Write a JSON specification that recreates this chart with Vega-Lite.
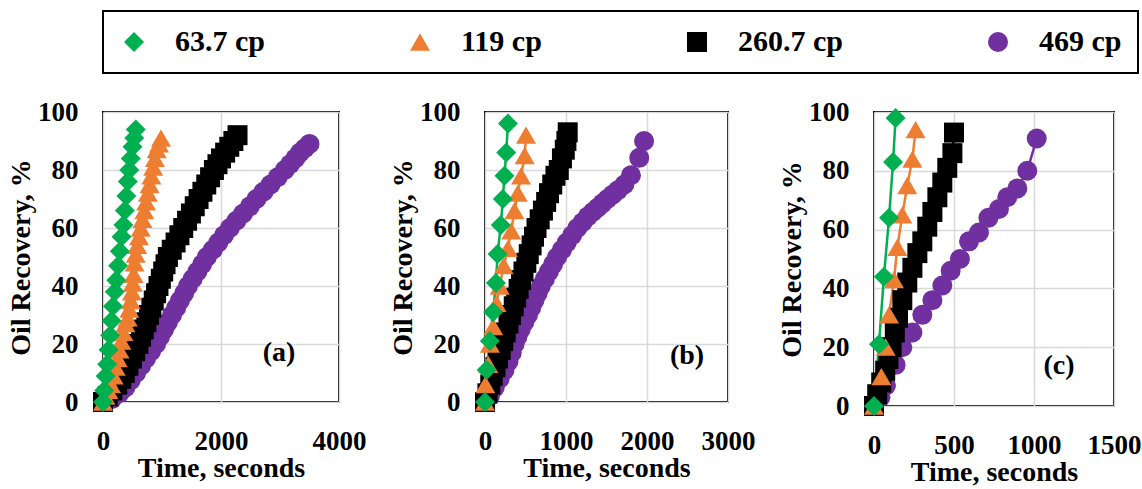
{
  "$schema": "https://vega.github.io/schema/vega-lite/v6.json",
  "padding": {"left": 6, "top": 10, "right": 0, "bottom": 0},
  "bounds": "flush",
  "spacing": 146,
  "datasets": {
    "pts": [
      {"p":"a","s":"469 cp","t":0,"r":0},{"p":"a","s":"469 cp","t":150,"r":1},{"p":"a","s":"469 cp","t":280,"r":3},{"p":"a","s":"469 cp","t":380,"r":5},{"p":"a","s":"469 cp","t":470,"r":7.5},{"p":"a","s":"469 cp","t":560,"r":10},{"p":"a","s":"469 cp","t":645,"r":12.5},{"p":"a","s":"469 cp","t":730,"r":15},{"p":"a","s":"469 cp","t":815,"r":17.5},{"p":"a","s":"469 cp","t":900,"r":20},{"p":"a","s":"469 cp","t":965,"r":22.5},{"p":"a","s":"469 cp","t":1035,"r":25},{"p":"a","s":"469 cp","t":1100,"r":27.5},{"p":"a","s":"469 cp","t":1170,"r":30},{"p":"a","s":"469 cp","t":1240,"r":32.5},{"p":"a","s":"469 cp","t":1305,"r":35},{"p":"a","s":"469 cp","t":1375,"r":37.5},{"p":"a","s":"469 cp","t":1440,"r":40},{"p":"a","s":"469 cp","t":1520,"r":42.5},{"p":"a","s":"469 cp","t":1600,"r":45},{"p":"a","s":"469 cp","t":1680,"r":47.5},{"p":"a","s":"469 cp","t":1760,"r":50},{"p":"a","s":"469 cp","t":1860,"r":52.5},{"p":"a","s":"469 cp","t":1955,"r":55},{"p":"a","s":"469 cp","t":2050,"r":57.5},{"p":"a","s":"469 cp","t":2150,"r":60},{"p":"a","s":"469 cp","t":2260,"r":62.5},{"p":"a","s":"469 cp","t":2375,"r":65},{"p":"a","s":"469 cp","t":2490,"r":67.5},{"p":"a","s":"469 cp","t":2600,"r":70},{"p":"a","s":"469 cp","t":2720,"r":72.5},{"p":"a","s":"469 cp","t":2840,"r":75},{"p":"a","s":"469 cp","t":2960,"r":77.5},{"p":"a","s":"469 cp","t":3080,"r":80},{"p":"a","s":"469 cp","t":3170,"r":82},{"p":"a","s":"469 cp","t":3260,"r":84},{"p":"a","s":"469 cp","t":3340,"r":86},{"p":"a","s":"469 cp","t":3420,"r":87.5},{"p":"a","s":"469 cp","t":3500,"r":89},
      {"p":"a","s":"260.7 cp","t":0,"r":0},{"p":"a","s":"260.7 cp","t":80,"r":2},{"p":"a","s":"260.7 cp","t":160,"r":4},{"p":"a","s":"260.7 cp","t":240,"r":6},{"p":"a","s":"260.7 cp","t":310,"r":8},{"p":"a","s":"260.7 cp","t":370,"r":10},{"p":"a","s":"260.7 cp","t":430,"r":12.5},{"p":"a","s":"260.7 cp","t":490,"r":15},{"p":"a","s":"260.7 cp","t":545,"r":17.5},{"p":"a","s":"260.7 cp","t":600,"r":20},{"p":"a","s":"260.7 cp","t":645,"r":22.5},{"p":"a","s":"260.7 cp","t":690,"r":25},{"p":"a","s":"260.7 cp","t":735,"r":27.5},{"p":"a","s":"260.7 cp","t":780,"r":30},{"p":"a","s":"260.7 cp","t":820,"r":32.5},{"p":"a","s":"260.7 cp","t":860,"r":35},{"p":"a","s":"260.7 cp","t":900,"r":37.5},{"p":"a","s":"260.7 cp","t":940,"r":40},{"p":"a","s":"260.7 cp","t":980,"r":42.5},{"p":"a","s":"260.7 cp","t":1020,"r":45},{"p":"a","s":"260.7 cp","t":1060,"r":47.5},{"p":"a","s":"260.7 cp","t":1100,"r":50},{"p":"a","s":"260.7 cp","t":1165,"r":52.5},{"p":"a","s":"260.7 cp","t":1230,"r":55},{"p":"a","s":"260.7 cp","t":1295,"r":57.5},{"p":"a","s":"260.7 cp","t":1360,"r":60},{"p":"a","s":"260.7 cp","t":1425,"r":62.5},{"p":"a","s":"260.7 cp","t":1490,"r":65},{"p":"a","s":"260.7 cp","t":1555,"r":67.5},{"p":"a","s":"260.7 cp","t":1620,"r":70},{"p":"a","s":"260.7 cp","t":1685,"r":72.5},{"p":"a","s":"260.7 cp","t":1750,"r":75},{"p":"a","s":"260.7 cp","t":1815,"r":77.5},{"p":"a","s":"260.7 cp","t":1880,"r":80},{"p":"a","s":"260.7 cp","t":1940,"r":82},{"p":"a","s":"260.7 cp","t":2000,"r":84},{"p":"a","s":"260.7 cp","t":2070,"r":86},{"p":"a","s":"260.7 cp","t":2140,"r":88},{"p":"a","s":"260.7 cp","t":2210,"r":90},{"p":"a","s":"260.7 cp","t":2280,"r":92},
      {"p":"a","s":"119 cp","t":0,"r":0},{"p":"a","s":"119 cp","t":40,"r":2},{"p":"a","s":"119 cp","t":90,"r":4},{"p":"a","s":"119 cp","t":136,"r":6},{"p":"a","s":"119 cp","t":180,"r":9},{"p":"a","s":"119 cp","t":215,"r":12},{"p":"a","s":"119 cp","t":250,"r":15},{"p":"a","s":"119 cp","t":280,"r":18},{"p":"a","s":"119 cp","t":310,"r":21},{"p":"a","s":"119 cp","t":345,"r":24},{"p":"a","s":"119 cp","t":380,"r":27},{"p":"a","s":"119 cp","t":418,"r":29},{"p":"a","s":"119 cp","t":445,"r":32},{"p":"a","s":"119 cp","t":470,"r":35},{"p":"a","s":"119 cp","t":490,"r":38},{"p":"a","s":"119 cp","t":505,"r":41},{"p":"a","s":"119 cp","t":520,"r":44},{"p":"a","s":"119 cp","t":535,"r":48},{"p":"a","s":"119 cp","t":555,"r":51},{"p":"a","s":"119 cp","t":580,"r":54},{"p":"a","s":"119 cp","t":610,"r":57},{"p":"a","s":"119 cp","t":640,"r":60},{"p":"a","s":"119 cp","t":670,"r":63},{"p":"a","s":"119 cp","t":700,"r":66},{"p":"a","s":"119 cp","t":730,"r":69},{"p":"a","s":"119 cp","t":760,"r":72},{"p":"a","s":"119 cp","t":790,"r":75},{"p":"a","s":"119 cp","t":820,"r":78},{"p":"a","s":"119 cp","t":850,"r":81},{"p":"a","s":"119 cp","t":880,"r":84},{"p":"a","s":"119 cp","t":910,"r":87},{"p":"a","s":"119 cp","t":950,"r":89},{"p":"a","s":"119 cp","t":983,"r":91},
      {"p":"a","s":"63.7 cp","t":0,"r":0},{"p":"a","s":"63.7 cp","t":20,"r":4},{"p":"a","s":"63.7 cp","t":45,"r":9},{"p":"a","s":"63.7 cp","t":70,"r":13},{"p":"a","s":"63.7 cp","t":95,"r":18},{"p":"a","s":"63.7 cp","t":120,"r":23},{"p":"a","s":"63.7 cp","t":145,"r":28},{"p":"a","s":"63.7 cp","t":170,"r":33},{"p":"a","s":"63.7 cp","t":200,"r":38},{"p":"a","s":"63.7 cp","t":225,"r":42},{"p":"a","s":"63.7 cp","t":255,"r":47},{"p":"a","s":"63.7 cp","t":285,"r":52},{"p":"a","s":"63.7 cp","t":315,"r":57},{"p":"a","s":"63.7 cp","t":345,"r":61},{"p":"a","s":"63.7 cp","t":370,"r":66},{"p":"a","s":"63.7 cp","t":395,"r":71},{"p":"a","s":"63.7 cp","t":420,"r":76},{"p":"a","s":"63.7 cp","t":445,"r":80},{"p":"a","s":"63.7 cp","t":470,"r":84},{"p":"a","s":"63.7 cp","t":500,"r":88},{"p":"a","s":"63.7 cp","t":530,"r":91},{"p":"a","s":"63.7 cp","t":555,"r":94},

      {"p":"b","s":"469 cp","t":0,"r":0},{"p":"b","s":"469 cp","t":60,"r":2},{"p":"b","s":"469 cp","t":120,"r":5},{"p":"b","s":"469 cp","t":180,"r":8},{"p":"b","s":"469 cp","t":240,"r":11},{"p":"b","s":"469 cp","t":290,"r":14},{"p":"b","s":"469 cp","t":330,"r":17},{"p":"b","s":"469 cp","t":365,"r":20},{"p":"b","s":"469 cp","t":400,"r":22.5},{"p":"b","s":"469 cp","t":440,"r":25},{"p":"b","s":"469 cp","t":485,"r":27.5},{"p":"b","s":"469 cp","t":530,"r":30},{"p":"b","s":"469 cp","t":570,"r":32.5},{"p":"b","s":"469 cp","t":610,"r":35},{"p":"b","s":"469 cp","t":650,"r":37.5},{"p":"b","s":"469 cp","t":690,"r":40},{"p":"b","s":"469 cp","t":740,"r":42.5},{"p":"b","s":"469 cp","t":790,"r":45},{"p":"b","s":"469 cp","t":840,"r":47.5},{"p":"b","s":"469 cp","t":890,"r":50},{"p":"b","s":"469 cp","t":950,"r":52.5},{"p":"b","s":"469 cp","t":1010,"r":55},{"p":"b","s":"469 cp","t":1075,"r":57.5},{"p":"b","s":"469 cp","t":1140,"r":60},{"p":"b","s":"469 cp","t":1205,"r":62},{"p":"b","s":"469 cp","t":1270,"r":64},{"p":"b","s":"469 cp","t":1330,"r":65.5},{"p":"b","s":"469 cp","t":1390,"r":67},{"p":"b","s":"469 cp","t":1450,"r":68.5},{"p":"b","s":"469 cp","t":1510,"r":70},{"p":"b","s":"469 cp","t":1575,"r":71.5},{"p":"b","s":"469 cp","t":1640,"r":73},{"p":"b","s":"469 cp","t":1721,"r":75},{"p":"b","s":"469 cp","t":1802,"r":78.2},{"p":"b","s":"469 cp","t":1904,"r":84.2},{"p":"b","s":"469 cp","t":1964,"r":90},
      {"p":"b","s":"260.7 cp","t":0,"r":0},{"p":"b","s":"260.7 cp","t":30,"r":3},{"p":"b","s":"260.7 cp","t":65,"r":6},{"p":"b","s":"260.7 cp","t":95,"r":9},{"p":"b","s":"260.7 cp","t":130,"r":12},{"p":"b","s":"260.7 cp","t":160,"r":15},{"p":"b","s":"260.7 cp","t":195,"r":18},{"p":"b","s":"260.7 cp","t":225,"r":21},{"p":"b","s":"260.7 cp","t":255,"r":24},{"p":"b","s":"260.7 cp","t":290,"r":27},{"p":"b","s":"260.7 cp","t":320,"r":30},{"p":"b","s":"260.7 cp","t":355,"r":33},{"p":"b","s":"260.7 cp","t":385,"r":36},{"p":"b","s":"260.7 cp","t":415,"r":39},{"p":"b","s":"260.7 cp","t":445,"r":42},{"p":"b","s":"260.7 cp","t":475,"r":45},{"p":"b","s":"260.7 cp","t":510,"r":48},{"p":"b","s":"260.7 cp","t":540,"r":51},{"p":"b","s":"260.7 cp","t":575,"r":54},{"p":"b","s":"260.7 cp","t":605,"r":57},{"p":"b","s":"260.7 cp","t":636,"r":60},{"p":"b","s":"260.7 cp","t":675,"r":63},{"p":"b","s":"260.7 cp","t":715,"r":66},{"p":"b","s":"260.7 cp","t":755,"r":69},{"p":"b","s":"260.7 cp","t":790,"r":72},{"p":"b","s":"260.7 cp","t":830,"r":75},{"p":"b","s":"260.7 cp","t":870,"r":78},{"p":"b","s":"260.7 cp","t":911,"r":80},{"p":"b","s":"260.7 cp","t":950,"r":84},{"p":"b","s":"260.7 cp","t":985,"r":87},{"p":"b","s":"260.7 cp","t":1005,"r":90},{"p":"b","s":"260.7 cp","t":1021,"r":93},
      {"p":"b","s":"119 cp","t":0,"r":0},{"p":"b","s":"119 cp","t":5,"r":6},{"p":"b","s":"119 cp","t":40,"r":13},{"p":"b","s":"119 cp","t":61,"r":20},{"p":"b","s":"119 cp","t":101,"r":26},{"p":"b","s":"119 cp","t":142,"r":34},{"p":"b","s":"119 cp","t":182,"r":40},{"p":"b","s":"119 cp","t":231,"r":47},{"p":"b","s":"119 cp","t":283,"r":53},{"p":"b","s":"119 cp","t":324,"r":59},{"p":"b","s":"119 cp","t":364,"r":66},{"p":"b","s":"119 cp","t":405,"r":72},{"p":"b","s":"119 cp","t":445,"r":78},{"p":"b","s":"119 cp","t":490,"r":85},{"p":"b","s":"119 cp","t":506,"r":92},
      {"p":"b","s":"63.7 cp","t":0,"r":0},{"p":"b","s":"63.7 cp","t":20,"r":11},{"p":"b","s":"63.7 cp","t":60,"r":21},{"p":"b","s":"63.7 cp","t":100,"r":31},{"p":"b","s":"63.7 cp","t":135,"r":41},{"p":"b","s":"63.7 cp","t":155,"r":51},{"p":"b","s":"63.7 cp","t":195,"r":61},{"p":"b","s":"63.7 cp","t":220,"r":70},{"p":"b","s":"63.7 cp","t":240,"r":78},{"p":"b","s":"63.7 cp","t":262,"r":86},{"p":"b","s":"63.7 cp","t":283,"r":96},

      {"p":"c","s":"469 cp","t":0,"r":0},{"p":"c","s":"469 cp","t":40,"r":3},{"p":"c","s":"469 cp","t":75,"r":7},{"p":"c","s":"469 cp","t":135,"r":14},{"p":"c","s":"469 cp","t":177,"r":20},{"p":"c","s":"469 cp","t":240,"r":25},{"p":"c","s":"469 cp","t":302,"r":31},{"p":"c","s":"469 cp","t":365,"r":36},{"p":"c","s":"469 cp","t":427,"r":41},{"p":"c","s":"469 cp","t":479,"r":46},{"p":"c","s":"469 cp","t":537,"r":50},{"p":"c","s":"469 cp","t":594,"r":56},{"p":"c","s":"469 cp","t":656,"r":59},{"p":"c","s":"469 cp","t":715,"r":64},{"p":"c","s":"469 cp","t":781,"r":67},{"p":"c","s":"469 cp","t":833,"r":71},{"p":"c","s":"469 cp","t":896,"r":74},{"p":"c","s":"469 cp","t":958,"r":80},{"p":"c","s":"469 cp","t":1017,"r":91},
      {"p":"c","s":"260.7 cp","t":0,"r":0},{"p":"c","s":"260.7 cp","t":20,"r":4},{"p":"c","s":"260.7 cp","t":45,"r":8},{"p":"c","s":"260.7 cp","t":70,"r":12},{"p":"c","s":"260.7 cp","t":90,"r":16},{"p":"c","s":"260.7 cp","t":110,"r":20},{"p":"c","s":"260.7 cp","t":130,"r":25},{"p":"c","s":"260.7 cp","t":150,"r":30},{"p":"c","s":"260.7 cp","t":177,"r":36},{"p":"c","s":"260.7 cp","t":208,"r":42},{"p":"c","s":"260.7 cp","t":240,"r":47},{"p":"c","s":"260.7 cp","t":271,"r":52},{"p":"c","s":"260.7 cp","t":302,"r":56},{"p":"c","s":"260.7 cp","t":333,"r":61},{"p":"c","s":"260.7 cp","t":365,"r":66},{"p":"c","s":"260.7 cp","t":396,"r":71},{"p":"c","s":"260.7 cp","t":427,"r":76},{"p":"c","s":"260.7 cp","t":458,"r":81},{"p":"c","s":"260.7 cp","t":490,"r":86},{"p":"c","s":"260.7 cp","t":500,"r":93},
      {"p":"c","s":"119 cp","t":0,"r":0},{"p":"c","s":"119 cp","t":46,"r":10},{"p":"c","s":"119 cp","t":73,"r":20},{"p":"c","s":"119 cp","t":94,"r":31},{"p":"c","s":"119 cp","t":125,"r":43},{"p":"c","s":"119 cp","t":146,"r":54},{"p":"c","s":"119 cp","t":177,"r":65},{"p":"c","s":"119 cp","t":208,"r":75},{"p":"c","s":"119 cp","t":240,"r":84},{"p":"c","s":"119 cp","t":260,"r":94},
      {"p":"c","s":"63.7 cp","t":0,"r":0},{"p":"c","s":"63.7 cp","t":31,"r":21},{"p":"c","s":"63.7 cp","t":62,"r":44},{"p":"c","s":"63.7 cp","t":94,"r":64},{"p":"c","s":"63.7 cp","t":119,"r":83},{"p":"c","s":"63.7 cp","t":135,"r":98}
    ]
  },
  "config": {
    "font": "Liberation Serif",
    "view": {"stroke": "black", "strokeWidth": 2},
    "axis": {
      "labelFont": "Liberation Serif", "labelFontSize": 27, "labelFontWeight": "bold", "labelColor": "black",
      "titleFont": "Liberation Serif", "titleFontSize": 28, "titleFontWeight": "bold", "titleColor": "black",
      "domain": false, "ticks": false, "tickSize": 0, "labelFlush": false, "labelOverlap": false,
      "gridColor": "#D9D9D9", "gridWidth": 1.5, "format": "d"
    },
    "axisX": {"labelPadding": 26, "titlePadding": 0},
    "axisY": {"labelPadding": 25, "titlePadding": 2},
    "legend": {
      "labelFont": "Liberation Serif", "labelFontSize": 30, "labelFontWeight": "bold", "labelColor": "black",
      "symbolSize": 400, "symbolStrokeWidth": 0, "labelOffset": 26, "columnPadding": 140, "padding": 16,
      "strokeColor": "black", "strokeWidth": 2, "orient": "top", "direction": "horizontal", "offset": 24
    }
  },
  "hconcat": [
    {
      "width": 236, "height": 290,
      "layer": [
        {
          "data": {"name": "pts"},
          "transform": [{"filter": "datum.p === 'a'"}],
          "mark": {"type": "line", "strokeWidth": 2.5, "clip": false},
          "encoding": {
            "x": {"field": "t", "type": "quantitative", "scale": {"domain": [0, 4000], "nice": false}, "axis": {"values": [0, 2000, 4000], "title": "Time, seconds"}},
            "y": {"field": "r", "type": "quantitative", "scale": {"domain": [0, 100], "nice": false}, "axis": {"values": [0, 20, 40, 60, 80, 100], "title": "Oil Recovery, %"}},
            "color": {"field": "s", "type": "nominal", "title": null, "scale": {"domain": ["63.7 cp", "119 cp", "260.7 cp", "469 cp"], "range": ["#00B050", "#ED7D31", "#000000", "#7030A0"]}}
          }
        },
        {
          "data": {"name": "pts"},
          "transform": [{"filter": "datum.p === 'a'"}],
          "mark": {"type": "point", "filled": true, "opacity": 1, "size": 400, "clip": false},
          "encoding": {
            "x": {"field": "t", "type": "quantitative"},
            "y": {"field": "r", "type": "quantitative"},
            "color": {"field": "s", "type": "nominal", "title": null},
            "shape": {"field": "s", "type": "nominal", "title": null, "scale": {"domain": ["63.7 cp", "119 cp", "260.7 cp", "469 cp"], "range": ["diamond", "triangle-up", "square", "circle"]}}
          }
        },
        {
          "data": {"values": [{"lab": "(a)"}]},
          "mark": {"type": "text", "font": "Liberation Serif", "fontSize": 28, "fontWeight": "bold", "color": "black"},
          "encoding": {"x": {"datum": 2983}, "y": {"datum": 17}, "text": {"field": "lab"}}
        }
      ]
    },
    {
      "width": 243, "height": 290,
      "layer": [
        {
          "data": {"name": "pts"},
          "transform": [{"filter": "datum.p === 'b'"}],
          "mark": {"type": "line", "strokeWidth": 2.5, "clip": false},
          "encoding": {
            "x": {"field": "t", "type": "quantitative", "scale": {"domain": [0, 3000], "nice": false}, "axis": {"values": [0, 1000, 2000, 3000], "title": "Time, seconds"}},
            "y": {"field": "r", "type": "quantitative", "scale": {"domain": [0, 100], "nice": false}, "axis": {"values": [0, 20, 40, 60, 80, 100], "title": "Oil Recovery, %"}},
            "color": {"field": "s", "type": "nominal", "title": null}
          }
        },
        {
          "data": {"name": "pts"},
          "transform": [{"filter": "datum.p === 'b'"}],
          "mark": {"type": "point", "filled": true, "opacity": 1, "size": 400, "clip": false},
          "encoding": {
            "x": {"field": "t", "type": "quantitative"},
            "y": {"field": "r", "type": "quantitative"},
            "color": {"field": "s", "type": "nominal", "title": null},
            "shape": {"field": "s", "type": "nominal", "title": null}
          }
        },
        {
          "data": {"values": [{"lab": "(b)"}]},
          "mark": {"type": "text", "font": "Liberation Serif", "fontSize": 28, "fontWeight": "bold", "color": "black"},
          "encoding": {"x": {"datum": 2494}, "y": {"datum": 16}, "text": {"field": "lab"}}
        }
      ]
    },
    {
      "width": 240, "height": 294,
      "layer": [
        {
          "data": {"name": "pts"},
          "transform": [{"filter": "datum.p === 'c'"}],
          "mark": {"type": "line", "strokeWidth": 2.5, "clip": false},
          "encoding": {
            "x": {"field": "t", "type": "quantitative", "scale": {"domain": [0, 1500], "nice": false}, "axis": {"values": [0, 500, 1000, 1500], "title": "Time, seconds"}},
            "y": {"field": "r", "type": "quantitative", "scale": {"domain": [0, 100], "nice": false}, "axis": {"values": [0, 20, 40, 60, 80, 100], "title": "Oil Recovery, %"}},
            "color": {"field": "s", "type": "nominal", "title": null}
          }
        },
        {
          "data": {"name": "pts"},
          "transform": [{"filter": "datum.p === 'c'"}],
          "mark": {"type": "point", "filled": true, "opacity": 1, "size": 400, "clip": false},
          "encoding": {
            "x": {"field": "t", "type": "quantitative"},
            "y": {"field": "r", "type": "quantitative"},
            "color": {"field": "s", "type": "nominal", "title": null},
            "shape": {"field": "s", "type": "nominal", "title": null}
          }
        },
        {
          "data": {"values": [{"lab": "(c)"}]},
          "mark": {"type": "text", "font": "Liberation Serif", "fontSize": 28, "fontWeight": "bold", "color": "black"},
          "encoding": {"x": {"datum": 1156}, "y": {"datum": 13.5}, "text": {"field": "lab"}}
        }
      ]
    }
  ]
}
